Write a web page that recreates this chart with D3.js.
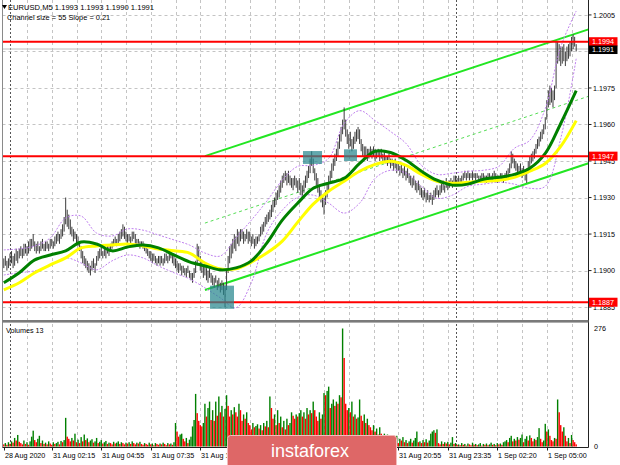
<!DOCTYPE html>
<html><head><meta charset="utf-8">
<script src="https://cdn.jsdelivr.net/npm/d3@7"></script>
<style>body{margin:0;background:#fff}svg{display:block}text{font-family:"Liberation Sans",Arial,sans-serif}</style>
</head><body><svg id="c" width="620" height="465"></svg>
<script>
// ---------- DATA ----------
const symbol = "EURUSD,M5";
const lastQuote = ["1.1993", "1.1993", "1.1990", "1.1991"];
const channelText = "Channel size = 55 Slope = 0.21";
const volumeTitle = "Volumes 13";

const barLow = [
1.1901,1.1902,1.1900,1.1901,1.1902,1.1903,1.1901,1.1902,1.1904,1.1903,
1.1905,1.1906,1.1905,1.1906,1.1907,1.1906,1.1907,1.1908,1.1909,1.1910,
1.1908,1.1907,1.1908,1.1907,1.1908,1.1909,1.1908,1.1908,1.1909,1.1908,
1.1909,1.1910,1.1909,1.1910,1.1911,1.1912,1.1911,1.1913,1.1914,1.1916,
1.1919,1.1918,1.1917,1.1915,1.1914,1.1912,1.1913,1.1911,1.1910,1.1908,
1.1905,1.1903,1.1902,1.1901,1.1900,1.1899,1.1898,1.1900,1.1901,1.1899,
1.1902,1.1904,1.1905,1.1906,1.1905,1.1906,1.1905,1.1907,1.1906,1.1908,
1.1909,1.1910,1.1911,1.1910,1.1911,1.1912,1.1913,1.1914,1.1913,1.1912,
1.1911,1.1912,1.1911,1.1912,1.1913,1.1911,1.1910,1.1911,1.1909,1.1910,
1.1909,1.1908,1.1907,1.1906,1.1905,1.1904,1.1903,1.1904,1.1903,1.1902,
1.1903,1.1902,1.1903,1.1902,1.1903,1.1904,1.1903,1.1904,1.1905,1.1903,
1.1902,1.1901,1.1900,1.1899,1.1900,1.1898,1.1899,1.1898,1.1897,1.1899,
1.1897,1.1896,1.1895,1.1897,1.1899,1.1902,1.1904,1.1900,1.1899,1.1897,
1.1898,1.1896,1.1895,1.1897,1.1895,1.1894,1.1893,1.1895,1.1892,1.1893,
1.1891,1.1892,1.1890,1.1885,1.1892,1.1899,1.1903,1.1905,1.1907,1.1909,
1.1908,1.1911,1.1910,1.1912,1.1913,1.1911,1.1912,1.1913,1.1911,1.1912,
1.1910,1.1911,1.1909,1.1910,1.1911,1.1912,1.1914,1.1915,1.1916,1.1918,
1.1919,1.1920,1.1921,1.1922,1.1924,1.1926,1.1927,1.1929,1.1930,1.1932,
1.1934,1.1936,1.1937,1.1935,1.1936,1.1935,1.1934,1.1933,1.1935,1.1934,
1.1932,1.1933,1.1931,1.1930,1.1932,1.1934,1.1936,1.1938,1.1940,1.1943,
1.1940,1.1937,1.1935,1.1932,1.1930,1.1928,1.1926,1.1923,1.1927,1.1930,
1.1933,1.1936,1.1938,1.1941,1.1943,1.1945,1.1947,1.1950,1.1953,1.1956,
1.1958,1.1955,1.1952,1.1950,1.1951,1.1949,1.1950,1.1952,1.1953,1.1954,
1.1952,1.1949,1.1947,1.1946,1.1947,1.1945,1.1946,1.1947,1.1946,1.1947,
1.1945,1.1946,1.1947,1.1945,1.1946,1.1944,1.1945,1.1944,1.1943,1.1944,
1.1942,1.1943,1.1941,1.1942,1.1940,1.1941,1.1939,1.1940,1.1938,1.1939,
1.1937,1.1938,1.1936,1.1935,1.1934,1.1935,1.1933,1.1932,1.1933,1.1931,
1.1930,1.1929,1.1930,1.1928,1.1929,1.1928,1.1929,1.1927,1.1929,1.1930,
1.1931,1.1930,1.1931,1.1932,1.1933,1.1932,1.1934,1.1933,1.1934,1.1935,
1.1934,1.1935,1.1936,1.1935,1.1936,1.1935,1.1936,1.1937,1.1938,1.1937,
1.1938,1.1937,1.1938,1.1937,1.1938,1.1937,1.1938,1.1937,1.1936,1.1937,
1.1938,1.1937,1.1936,1.1937,1.1938,1.1937,1.1937,1.1938,1.1937,1.1936,
1.1937,1.1938,1.1937,1.1936,1.1937,1.1938,1.1939,1.1940,1.1942,1.1944,
1.1942,1.1941,1.1940,1.1939,1.1940,1.1938,1.1939,1.1937,1.1936,1.1940,
1.1942,1.1944,1.1945,1.1946,1.1948,1.1950,1.1951,1.1953,1.1954,1.1956,
1.1958,1.1962,1.1967,1.1968,1.1969,1.1967,1.1970,1.1975,1.1985,1.1986,
1.1984,1.1985,1.1986,1.1984,1.1986,1.1987,1.1988,1.1990,1.1991,1.1992,
1.1990];

const barHigh = [
1.1905,1.1906,1.1904,1.1905,1.1907,1.1908,1.1906,1.1907,1.1909,1.1908,
1.1909,1.1910,1.1909,1.1911,1.1911,1.1910,1.1912,1.1913,1.1913,1.1915,
1.1912,1.1911,1.1912,1.1910,1.1912,1.1913,1.1911,1.1912,1.1912,1.1911,
1.1913,1.1913,1.1912,1.1914,1.1915,1.1916,1.1915,1.1917,1.1919,1.1922,
1.1930,1.1925,1.1923,1.1921,1.1918,1.1917,1.1916,1.1915,1.1914,1.1912,
1.1910,1.1908,1.1906,1.1905,1.1904,1.1903,1.1902,1.1904,1.1905,1.1903,
1.1906,1.1908,1.1909,1.1910,1.1908,1.1909,1.1909,1.1910,1.1910,1.1911,
1.1912,1.1913,1.1914,1.1913,1.1915,1.1916,1.1917,1.1919,1.1918,1.1916,
1.1915,1.1915,1.1914,1.1916,1.1916,1.1915,1.1913,1.1913,1.1912,1.1912,
1.1912,1.1911,1.1910,1.1909,1.1908,1.1908,1.1907,1.1907,1.1906,1.1905,
1.1906,1.1906,1.1906,1.1905,1.1907,1.1907,1.1906,1.1908,1.1908,1.1907,
1.1906,1.1905,1.1904,1.1903,1.1903,1.1902,1.1902,1.1901,1.1901,1.1902,
1.1900,1.1899,1.1899,1.1901,1.1904,1.1911,1.1910,1.1906,1.1904,1.1902,
1.1903,1.1901,1.1900,1.1901,1.1899,1.1898,1.1897,1.1898,1.1896,1.1897,
1.1895,1.1896,1.1895,1.1894,1.1901,1.1906,1.1910,1.1911,1.1913,1.1915,
1.1914,1.1917,1.1916,1.1917,1.1917,1.1916,1.1915,1.1917,1.1916,1.1916,
1.1914,1.1915,1.1913,1.1914,1.1914,1.1915,1.1918,1.1919,1.1920,1.1922,
1.1923,1.1924,1.1925,1.1927,1.1929,1.1930,1.1932,1.1933,1.1935,1.1937,
1.1939,1.1940,1.1941,1.1940,1.1941,1.1939,1.1938,1.1938,1.1939,1.1938,
1.1937,1.1938,1.1936,1.1935,1.1937,1.1939,1.1941,1.1943,1.1946,1.1949,
1.1946,1.1942,1.1940,1.1938,1.1935,1.1933,1.1931,1.1930,1.1933,1.1936,
1.1939,1.1941,1.1944,1.1946,1.1948,1.1950,1.1953,1.1956,1.1959,1.1962,
1.1967,1.1962,1.1958,1.1956,1.1957,1.1954,1.1955,1.1957,1.1958,1.1959,
1.1958,1.1954,1.1952,1.1951,1.1951,1.1950,1.1950,1.1951,1.1950,1.1951,
1.1950,1.1949,1.1950,1.1949,1.1950,1.1948,1.1949,1.1947,1.1947,1.1948,
1.1946,1.1946,1.1945,1.1946,1.1944,1.1945,1.1943,1.1944,1.1942,1.1943,
1.1941,1.1942,1.1940,1.1939,1.1938,1.1939,1.1937,1.1936,1.1937,1.1935,
1.1934,1.1933,1.1934,1.1932,1.1933,1.1931,1.1932,1.1931,1.1933,1.1934,
1.1935,1.1933,1.1935,1.1936,1.1937,1.1935,1.1938,1.1936,1.1937,1.1938,
1.1937,1.1939,1.1939,1.1938,1.1939,1.1938,1.1939,1.1940,1.1941,1.1940,
1.1941,1.1940,1.1940,1.1941,1.1940,1.1940,1.1940,1.1939,1.1939,1.1940,
1.1940,1.1939,1.1939,1.1940,1.1940,1.1939,1.1940,1.1941,1.1940,1.1939,
1.1939,1.1940,1.1940,1.1939,1.1940,1.1941,1.1942,1.1944,1.1949,1.1948,
1.1946,1.1945,1.1944,1.1943,1.1944,1.1942,1.1943,1.1941,1.1942,1.1945,
1.1947,1.1948,1.1949,1.1950,1.1952,1.1954,1.1955,1.1957,1.1958,1.1960,
1.1963,1.1970,1.1974,1.1976,1.1975,1.1974,1.1976,1.1994,1.1994,1.1993,
1.1992,1.1992,1.1993,1.1990,1.1992,1.1993,1.1994,1.1996,1.1997,1.1996,
1.1993];

const volumes = [
5,8,4,10,6,12,9,20,14,27,11,8,5,14,6,10,4,12,23,37,15,10,18,25,8,14,6,
9,5,12,7,4,10,6,8,11,5,13,10,15,67,23,18,12,20,14,30,10,16,8,
22,12,28,15,19,10,14,17,9,12,20,8,11,15,7,10,13,6,9,8,
5,11,7,9,12,6,10,8,5,9,7,10,6,12,8,5,9,7,11,6,4,8,
6,4,9,5,7,3,8,6,4,7,5,9,6,3,8,5,7,4,10,55,
35,23,28,30,18,12,20,8,16,23,47,62,123,78,60,50,47,55,100,
70,90,105,62,85,60,105,72,117,80,95,70,88,120,
95,70,85,75,92,80,70,100,85,60,75,65,80,55,
50,40,55,45,48,52,42,50,38,55,47,60,45,117,
90,65,75,50,85,55,70,45,60,40,65,50,55,80,72,65,75,70,78,
85,70,80,65,90,75,85,78,105,85,70,60,80,65,75,
125,120,130,140,90,100,110,95,105,100,120,115,276,207,
100,85,90,80,105,70,75,65,68,110,72,60,75,55,65,50,45,38,50,
35,42,28,45,30,25,30,22,28,18,25,15,20,12,25,8,18,14,22,10,
15,8,12,18,9,14,20,35,10,12,8,15,10,17,9,14,30,35,38,32,40,
8,5,12,6,10,7,11,5,9,22,6,8,4,
5,3,8,4,6,2,7,5,3,9,4,6,3,5,8,2,6,4,7,3,5,9,4,6,3,8,5,7,4,10,12,
15,10,20,25,12,18,14,22,16,20,28,10,18,24,14,26,20,12,18,15,22,43,
18,10,14,53,35,40,25,15,12,20,18,110,80,50,35,45,25,12,20,8,27,15,10,5];

// moving averages and bands, read every 10 bars (bar 0, 10, ... 370)
const maStep = 10;
const maGreen = [1.18950,1.18991,1.19044,1.19064,1.19081,1.19117,1.19109,1.19081,1.19097,1.19105,1.19093,1.19064,1.19036,1.19019,1.19003,1.19011,1.19040,1.19113,1.19207,1.19277,1.19338,1.19359,1.19379,1.19440,1.19490,1.19485,1.19453,1.19408,1.19371,1.19351,1.19355,1.19375,1.19383,1.19395,1.19420,1.19481,1.19604,1.19739];
const maYellow = [1.18921,1.18950,1.18991,1.19023,1.19052,1.19093,1.19101,1.19105,1.19109,1.19101,1.19089,1.19081,1.19072,1.19031,1.19007,1.19007,1.19035,1.19072,1.19121,1.19199,1.19273,1.19326,1.19367,1.19408,1.19436,1.19449,1.19432,1.19395,1.19367,1.19359,1.19363,1.19367,1.19371,1.19383,1.19408,1.19440,1.19510,1.19616];
const bandUpper = [1.19085,1.19089,1.19101,1.19134,1.19216,1.19224,1.19154,1.19142,1.19171,1.19166,1.19146,1.19126,1.19105,1.19072,1.19060,1.19134,1.19207,1.19285,1.19371,1.19428,1.19432,1.19461,1.19604,1.19657,1.19616,1.19571,1.19522,1.19432,1.19395,1.19400,1.19408,1.19412,1.19428,1.19502,1.19535,1.19665,1.19919,1.20066];
const bandLower = [1.18982,1.18991,1.18999,1.19019,1.19052,1.19031,1.19003,1.19040,1.19064,1.19052,1.19019,1.18991,1.18966,1.18929,1.18888,1.18847,1.18950,1.19154,1.19248,1.19301,1.19310,1.19277,1.19236,1.19277,1.19379,1.19412,1.19400,1.19346,1.19297,1.19310,1.19346,1.19355,1.19363,1.19355,1.19338,1.19346,1.19543,1.19870];

const levels = [1.1994, 1.1947, 1.1887];
const levelLabels = ["1.1994", "1.1947", "1.1887"];
const bidPrice = 1.1991;
const bidLabel = "1.1991";
const priceTicks = [1.2005, 1.1990, 1.1975, 1.1960, 1.1945, 1.1930, 1.1915, 1.1900, 1.1885];
const hiddenPriceTicks = [1.1990]; // covered by the bid label in the reference
const volumeTicks = [0, 276];
const timeLabels = ["28 Aug 2020","31 Aug 02:15","31 Aug 04:55","31 Aug 07:35","31 Aug 10:15","31 Aug 12:55","31 Aug 15:35","31 Aug 18:15","31 Aug 20:55","31 Aug 23:35","1 Sep 02:20","1 Sep 05:00"];
const timeLabelBars = [0, 31, 63, 95, 127, 159, 191, 223, 255, 287, 319, 351];
const hiddenTimeLabels = ["31 Aug 12:55", "31 Aug 15:35", "31 Aug 18:15"]; // covered by the watermark
const daySeparatorBars = [4, 292];
const channelStartBar = 130, channelUpperStart = 1.1947, channelSlope = 0.000021, channelSize = 0.0055;
const zoneFrom = [133.3, 193.4, 219.9], zoneTo = [148.8, 205.7, 228.3];
const zoneLow = [1.18843, 1.19438, 1.19450], zoneHigh = [1.18938, 1.19491, 1.19498];
const watermark = "instaforex";

// ---------- DRAW ----------
const svg = d3.select("#c");
const L = 2.5, R = 588.5, PB = 320, VT = 323, VB = 447.5;
const x = d3.scaleLinear().domain([0, 370]).range([3.8, 576.2]);
const y = d3.scaleLinear().domain([1.18797, 1.20099]).range([PB, 3]);
const yv = d3.scaleLinear().domain([0, 276]).range([446.5, 328.5]);

const defs = svg.append("defs");
defs.append("clipPath").attr("id", "pc").append("rect").attr("x", L).attr("y", 0).attr("width", R - L).attr("height", PB);
defs.append("clipPath").attr("id", "vc").append("rect").attr("x", L).attr("y", VT).attr("width", R - L).attr("height", VB - VT);

// grid
const grid = svg.append("g");
priceTicks.forEach(p => grid.append("line").attr("x1", L).attr("x2", R).attr("y1", Math.round(y(p)) + 0.5).attr("y2", Math.round(y(p)) + 0.5)
  .attr("stroke", "#c4c4c4").attr("stroke-dasharray", "3,3"));
for (let b = 15; x(b) < R; b += 16) {
  grid.append("line").attr("x1", Math.round(x(b)) + 0.5).attr("x2", Math.round(x(b)) + 0.5).attr("y1", 0).attr("y2", VB)
    .attr("stroke", "#c4c4c4").attr("stroke-dasharray", "3,3");
}
daySeparatorBars.forEach(b => grid.append("line").attr("x1", Math.round(x(b)) + 0.5).attr("x2", Math.round(x(b)) + 0.5).attr("y1", 0).attr("y2", VB)
  .attr("stroke", "#555").attr("stroke-dasharray", "2,2"));

const pg = svg.append("g").attr("clip-path", "url(#pc)");
pg.append("line").attr("x1", L).attr("x2", R).attr("y1", y(bidPrice)).attr("y2", y(bidPrice)).attr("stroke", "#bdbdbd");

// channel
const endBar = x.invert(R);
const up = b => channelUpperStart + (b - channelStartBar) * channelSlope;
[[0, "#22e622", 2, null], [channelSize / 2, "#55dd55", 1, "3,3"], [channelSize, "#22e622", 2, null]].forEach(([off, c, w, dash]) => {
  pg.append("line").attr("x1", x(channelStartBar)).attr("y1", y(up(channelStartBar) - off))
    .attr("x2", x(endBar)).attr("y2", y(up(endBar) - off)).attr("stroke", c).attr("stroke-width", w)
    .attr("stroke-dasharray", dash);
});

// bars
pg.append("g").selectAll("line").data(barHigh).join("line")
  .attr("x1", (d, i) => x(i)).attr("x2", (d, i) => x(i))
  .attr("y1", d => y(d)).attr("y2", (d, i) => y(barLow[i]))
  .attr("stroke", "#3c3c3c").attr("stroke-width", 1);

// bands
const mline = d3.line().x((d, i) => x(i * maStep)).y(d => y(d)).curve(d3.curveCatmullRom);
[bandUpper, bandLower].forEach(a => pg.append("path").attr("d", mline(a)).attr("fill", "none")
  .attr("stroke", "#bf80ee").attr("stroke-width", 1).attr("stroke-dasharray", "2,1.5"));
pg.append("path").attr("d", mline(maYellow)).attr("fill", "none").attr("stroke", "#ffff00").attr("stroke-width", 3);
pg.append("path").attr("d", mline(maGreen)).attr("fill", "none").attr("stroke", "#008000").attr("stroke-width", 3);

levels.forEach(p => pg.append("line").attr("x1", L).attr("x2", R).attr("y1", y(p)).attr("y2", y(p))
  .attr("stroke", "#ff0000").attr("stroke-width", 2));

zoneFrom.forEach((f, k) => pg.append("rect").attr("x", x(f)).attr("width", x(zoneTo[k]) - x(f))
  .attr("y", y(zoneHigh[k])).attr("height", y(zoneLow[k]) - y(zoneHigh[k]))
  .attr("fill", "#27868e").attr("fill-opacity", 0.72));

// volumes
svg.append("g").attr("clip-path", "url(#vc)").selectAll("rect").data(volumes).join("rect")
  .attr("x", (d, i) => x(i) - 0.7).attr("width", 1.4)
  .attr("y", d => yv(d)).attr("height", d => yv(0) - yv(d))
  .attr("fill", (d, i) => (i > 0 && d > volumes[i - 1]) ? "#008000" : "#ff0000");

// frames
svg.append("line").attr("x1", L).attr("x2", L).attr("y1", 0).attr("y2", VB).attr("stroke", "#8a8a8a");
svg.append("line").attr("x1", R).attr("x2", R).attr("y1", 0).attr("y2", VB).attr("stroke", "#222");
svg.append("rect").attr("x", L).attr("y", PB).attr("width", R - L).attr("height", 2.6).attr("fill", "#7a7a7a");
svg.append("line").attr("x1", L).attr("x2", R).attr("y1", VB).attr("y2", VB).attr("stroke", "#222");

const fs = "7.2px";
priceTicks.forEach(p => {
  svg.append("line").attr("x1", R).attr("x2", R + 3).attr("y1", y(p)).attr("y2", y(p)).attr("stroke", "#222");
  if (!hiddenPriceTicks.includes(p))
    svg.append("text").attr("x", 593).attr("y", y(p) + 2.6).attr("font-size", fs).attr("fill", "#000").text(p.toFixed(4));
});
volumeTicks.forEach(v => svg.append("text").attr("x", 594).attr("y", yv(v) + 2.6).attr("font-size", fs).text(v));

levels.forEach((p, k) => {
  svg.append("rect").attr("x", 589).attr("y", y(p) - 4.5).attr("width", 28.5).attr("height", 9).attr("fill", "#ff0000");
  svg.append("text").attr("x", 592).attr("y", y(p) + 2.6).attr("font-size", fs).attr("fill", "#fff").text(levelLabels[k]);
});
svg.append("rect").attr("x", 589).attr("y", y(bidPrice) - 3.5).attr("width", 28.5).attr("height", 8.5).attr("fill", "#000");
svg.append("text").attr("x", 592).attr("y", y(bidPrice) + 3).attr("font-size", fs).attr("fill", "#fff").text(bidLabel);

timeLabelBars.forEach((b, k) => {
  const tx = Math.round(x(b)) + 0.5;
  svg.append("line").attr("x1", tx).attr("x2", tx).attr("y1", VB).attr("y2", VB + 3).attr("stroke", "#222");
  if (!hiddenTimeLabels.includes(timeLabels[k]))
    svg.append("text").attr("x", tx + 0.5).attr("y", 458).attr("font-size", fs).text(timeLabels[k]);
});

// header
svg.append("path").attr("d", "M2,5 L7,5 L4.5,9 Z").attr("fill", "#000");
svg.append("text").attr("x", 8).attr("y", 10).attr("font-size", "7.6px").text(symbol + "  " + lastQuote.join(" "));
svg.append("text").attr("x", 7).attr("y", 19.5).attr("font-size", "7.4px").text(channelText);
svg.append("text").attr("x", 6).attr("y", 333).attr("font-size", fs).text(volumeTitle);

// watermark
svg.append("rect").attr("x", 227.5).attr("y", 435.5).attr("width", 169).attr("height", 34).attr("rx", 3)
  .attr("fill", "#de6767").attr("stroke", "#f2bcbc").attr("stroke-width", 1);
svg.append("text").attr("x", 310).attr("y", 457).attr("text-anchor", "middle").attr("font-size", "18px")
  .attr("font-family", "'Open Sans', sans-serif").attr("fill", "#fff").text(watermark);
</script></body></html>
